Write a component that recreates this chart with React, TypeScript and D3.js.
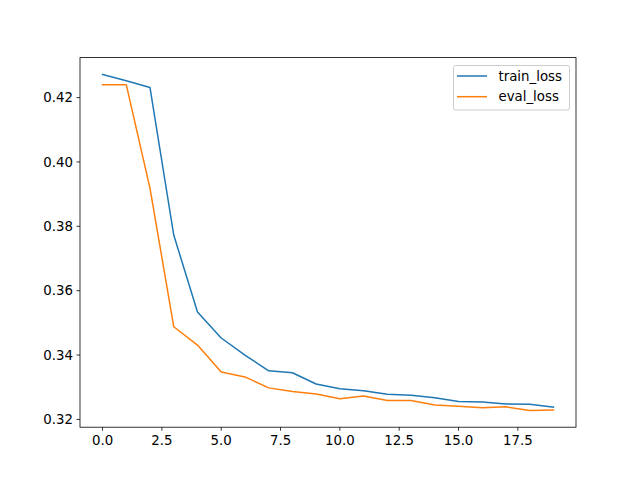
import React from "react";
import * as d3 from "d3";

const epochs = d3.range(20);
const trainLoss = [0.4272, 0.4252, 0.4231, 0.3773, 0.3534, 0.3453, 0.3400, 0.3351, 0.3345, 0.3310, 0.3295, 0.3289, 0.3278, 0.3275, 0.3267, 0.3256, 0.3254, 0.3248, 0.3247, 0.3238];
const evalLoss = [0.4240, 0.4240, 0.3918, 0.3488, 0.3431, 0.3347, 0.3332, 0.3298, 0.3287, 0.3279, 0.3264, 0.3273, 0.3259, 0.3259, 0.3245, 0.3241, 0.3236, 0.3239, 0.3228, 0.3229];
const xTicks = [0, 2.5, 5, 7.5, 10, 12.5, 15, 17.5];
const yTicks = [0.32, 0.34, 0.36, 0.38, 0.40, 0.42];
const seriesNames = ["train_loss", "eval_loss"];
const colors = ["#1f77b4", "#ff7f0e"];

export default function App() {
  const W = 640, H = 480;
  const L = 80, R = 576, T = 57.6, B = 427.2;
  const all = [...trainLoss, ...evalLoss];
  const ymin = d3.min(all)!, ymax = d3.max(all)!;
  const pad = (ymax - ymin) * 0.05;
  const x = d3.scaleLinear().domain([-0.95, 19.95]).range([L, R]);
  const y = d3.scaleLinear().domain([ymin - pad, ymax + pad]).range([B, T]);
  const line = d3.line<number>().x((_, i) => x(epochs[i])).y((d) => y(d));
  const font = "DejaVu Sans, sans-serif";
  return (
    <svg width={W} height={H} style={{ position: "absolute", left: 0, top: 0 }} fontFamily={font}>
      <rect width={W} height={H} fill="white" />
      <defs>
        <clipPath id="clip"><rect x={L} y={T} width={R - L} height={B - T} /></clipPath>
      </defs>
      <g clipPath="url(#clip)">
        {[trainLoss, evalLoss].map((s, k) => (
          <path key={k} d={line(s)!} fill="none" stroke={colors[k]} strokeWidth={1.5} strokeLinejoin="round" strokeLinecap="square" />
        ))}
      </g>
      <rect x={L} y={T} width={R - L} height={B - T} fill="none" stroke="black" strokeWidth={0.8} />
      {xTicks.map((t) => (
        <g key={t}>
          <line x1={x(t)} x2={x(t)} y1={B} y2={B + 3.5} stroke="black" strokeWidth={0.8} />
          <text x={x(t)} y={B + 17.5} textAnchor="middle" fontSize={13.33} fill="black">{t.toFixed(1)}</text>
        </g>
      ))}
      {yTicks.map((t) => (
        <g key={t}>
          <line x1={L - 3.5} x2={L} y1={y(t)} y2={y(t)} stroke="black" strokeWidth={0.8} />
          <text x={L - 7} y={y(t)} dy="0.35em" textAnchor="end" fontSize={13.33} fill="black">{t.toFixed(2)}</text>
        </g>
      ))}
      <rect x={453.5} y={65.5} width={116} height={44.5} rx={2} fill="white" fillOpacity={0.8} stroke="#cccccc" strokeWidth={1} />
      {seriesNames.map((n, k) => (
        <g key={n}>
          <line x1={457} x2={487} y1={76 + k * 20.7} y2={76 + k * 20.7} stroke={colors[k]} strokeWidth={1.5} />
          <text x={498.5} y={76 + k * 20.7} dy="0.35em" fontSize={13.33} fill="black">{n}</text>
        </g>
      ))}
    </svg>
  );
}
